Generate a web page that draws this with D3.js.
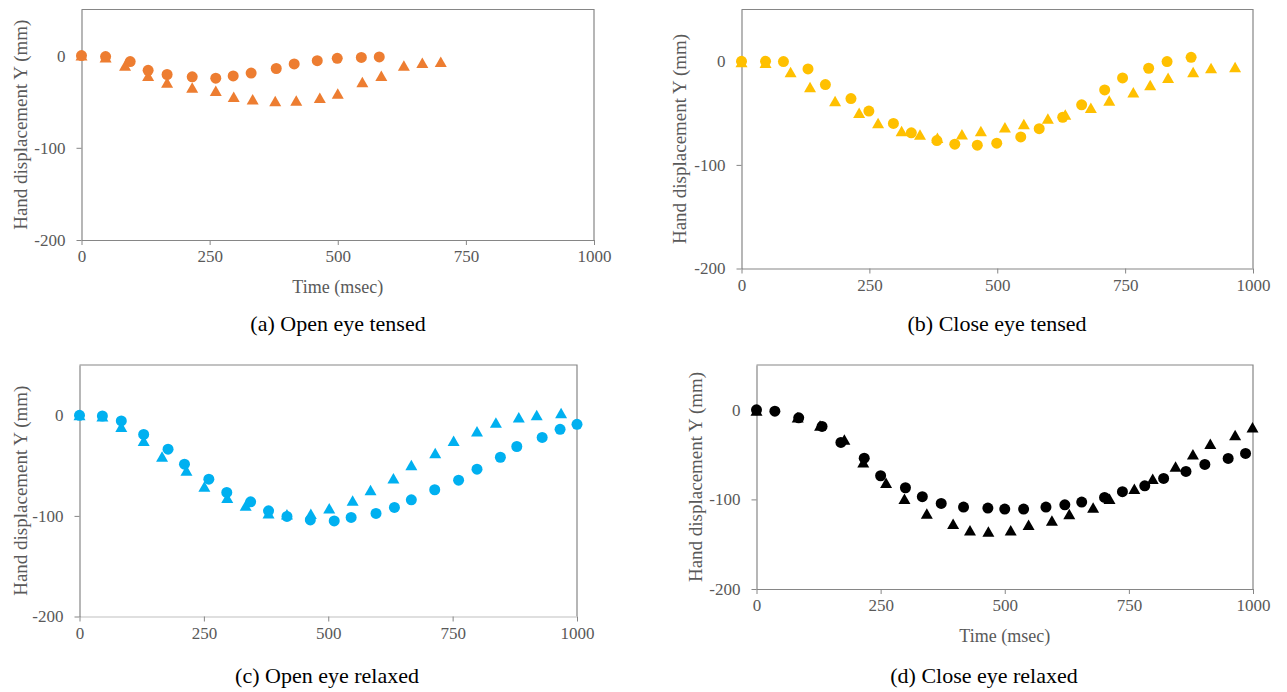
<!DOCTYPE html>
<html>
<head>
<meta charset="utf-8">
<script src="https://cdn.jsdelivr.net/npm/d3@7"></script>
<style>
  body { margin: 0; background: #fff; }
  svg { display: block; }
  text { font-family: "Liberation Serif", "Times New Roman", serif; }
</style>
</head>
<body>
<svg id="chart"></svg>
<script>
const width = 1287;
const height = 692;

const xTicks = [0, 250, 500, 750, 1000];
const yTicks = [0, -100, -200];

// (a) Open eye tensed: [time msec, displacement mm]
const openTensedCircles = [[0, 0], [47, -1], [95, -6.5], [130, -16], [167, -20.5], [216, -23], [262, -24.5],
  [296, -22], [331, -19], [380, -14], [415, -9], [460, -5.5], [499, -3], [546, -2], [581, -1.5]];
const openTensedTriangles = [[0, 0], [47, -2], [85, -11], [130, -22], [167, -29.5], [216, -35], [262, -38.5],
  [297, -45], [334, -47.5], [378, -49.5], [419, -49], [465, -46], [500, -41.5], [548, -29], [585, -22],
  [629, -11], [665, -8], [701, -7]];

// (b) Close eye tensed
const closeTensedCircles = [[0, 0], [47, 0], [82, -0.3], [130, -7.4], [164, -22.5], [214, -36], [249, -48],
  [297, -60], [332, -69], [382, -76.5], [417, -80], [461, -81], [499, -79], [546, -73], [582, -65],
  [628, -54], [665, -42], [710, -27.6], [745, -16], [796, -6.7], [832, -0.3], [879, 3.8]];
const closeTensedTriangles = [[0, -1], [47, -1.6], [96, -10.6], [134, -25], [183, -38.5], [230, -50],
  [267, -59.7], [313, -67.4], [349, -71], [383, -74], [431, -70.6], [468, -67.4], [515, -64], [552, -60.7],
  [599, -55.5], [633, -51.7], [683, -45], [719, -38], [766, -30], [799, -23], [834, -16], [883, -10.6],
  [918, -6.7], [965, -5.8]];

// (c) Open eye relaxed
const openRelaxedCircles = [[0, 0], [46, -0.7], [84, -5.6], [129, -19], [178, -33.7], [211, -48.6],
  [260, -63.5], [296, -76.7], [344, -86], [380, -95], [417, -100.5], [464, -104], [512, -105], [546, -101.5],
  [596, -97.5], [633, -91.6], [667, -84], [714, -74], [762, -64.5], [799, -53.6], [846, -41.7], [879, -31],
  [930, -22], [966, -13.9], [1000, -9]];
const openRelaxedTriangles = [[0, 0], [46, -1.3], [84, -11.6], [129, -25.5], [166, -41.3], [215, -55],
  [251, -71], [297, -82.3], [334, -90], [380, -97.5], [417, -98.5], [465, -98], [502, -92.6], [549, -85],
  [585, -74.4], [631, -62.8], [667, -49.6], [715, -37.7], [752, -25.5], [799, -16.2], [837, -7.3],
  [883, -2.3], [919, 0], [968, 2]];

// (d) Close eye relaxed
const closeRelaxedCircles = [[0, 0], [37, -1.5], [85, -9], [132, -18.6], [170, -36.4], [217, -54], [250, -73.6],
  [300, -87], [334, -97], [372, -104.5], [417, -108.5], [466, -109.7], [500, -110.8], [538, -110.8],
  [583, -108.5], [621, -106], [655, -103], [701, -97.8], [737, -91.4], [782, -84.8], [820, -76.6],
  [865, -68.8], [903, -61], [950, -54.3], [985, -48.7]];
const closeRelaxedTriangles = [[0, -1], [83, -8.6], [128, -17.8], [177, -33.5], [215, -58.7], [261, -81.8],
  [298, -99.6], [343, -116], [396, -127.5], [430, -134.6], [467, -136], [512, -134.6], [548, -128.6],
  [595, -123.8], [630, -116.7], [678, -109.3], [711, -99.6], [761, -88.5], [798, -77.3], [844, -63.6],
  [879, -49.8], [914, -38.3], [964, -28.3], [999, -19.7]];

const panels = [
  {caption: '(a) Open eye tensed', color: '#ED7D31', circles: openTensedCircles, triangles: openTensedTriangles,
   left: 81.5, right: 594, top: 9.5, bottom: 240, titleX: 27, capX: 338, capY: 331, timeTitle: true},
  {caption: '(b) Close eye tensed', color: '#FFC000', circles: closeTensedCircles, triangles: closeTensedTriangles,
   left: 741.5, right: 1253, top: 9.5, bottom: 268.5, titleX: 686, capX: 997, capY: 331, timeTitle: false},
  {caption: '(c) Open eye relaxed', color: '#00B0F0', circles: openRelaxedCircles, triangles: openRelaxedTriangles,
   left: 79.5, right: 577, top: 365, bottom: 616.5, titleX: 27, capX: 327, capY: 683, timeTitle: false,
   axisColor: '#BFBFBF'},
  {caption: '(d) Close eye relaxed', color: '#000000', circles: closeRelaxedCircles, triangles: closeRelaxedTriangles,
   left: 756.5, right: 1253, top: 365, bottom: 589, titleX: 702, capX: 984, capY: 683, timeTitle: true}
];

const svg = d3.select('#chart')
  .attr('width', width)
  .attr('height', height);

const lineColor = '#868686';
const tickText = '#595959';
const plainNumber = d => String(d);

panels.forEach(p => {
  const x = d3.scaleLinear().domain([0, 1000]).range([p.left, p.right]);
  const y = d3.scaleLinear().domain([-200, 50]).range([p.bottom, p.top]);
  const g = svg.append('g');

  // top and right frame
  g.append('path')
    .attr('d', `M${p.left},${p.top}H${p.right}V${p.bottom}`)
    .attr('fill', 'none')
    .attr('stroke', lineColor)
    .attr('stroke-width', 1.2);

  const xAxis = g.append('g')
    .attr('transform', `translate(0,${p.bottom})`)
    .call(d3.axisBottom(x).tickValues(xTicks).tickFormat(plainNumber)
      .tickSize(5).tickSizeOuter(0).tickPadding(5));
  xAxis.select('.domain').attr('stroke', p.axisColor || lineColor).attr('stroke-width', 1.2);
  xAxis.selectAll('.tick line').attr('stroke', lineColor);
  xAxis.selectAll('text').attr('fill', tickText).style('font-size', '17px')
    .style('font-family', '"Liberation Serif", serif');

  const yAxis = g.append('g')
    .attr('transform', `translate(${p.left},0)`)
    .call(d3.axisLeft(y).tickValues(yTicks).tickFormat(plainNumber)
      .tickSize(5).tickSizeOuter(0).tickPadding(11));
  yAxis.select('.domain').attr('stroke', lineColor).attr('stroke-width', 1.2);
  yAxis.selectAll('.tick line').attr('stroke', lineColor);
  yAxis.selectAll('text').attr('fill', tickText).style('font-size', '17px')
    .style('font-family', '"Liberation Serif", serif');

  g.append('text')
    .attr('transform', `translate(${p.titleX},${(p.top + p.bottom) / 2}) rotate(-90)`)
    .attr('text-anchor', 'middle')
    .attr('fill', tickText)
    .style('font-size', '19px')
    .text('Hand displacement Y (mm)');

  if (p.timeTitle) {
    g.append('text')
      .attr('x', (p.left + p.right) / 2)
      .attr('y', p.bottom + 53)
      .attr('text-anchor', 'middle')
      .attr('fill', tickText)
      .style('font-size', '18px')
      .text('Time (msec)');
  }

  g.append('text')
    .attr('x', p.capX)
    .attr('y', p.capY)
    .attr('text-anchor', 'middle')
    .attr('fill', '#000')
    .style('font-size', '22px')
    .text(p.caption);

  g.append('g').selectAll('path')
    .data(p.triangles)
    .join('path')
    .attr('transform', d => `translate(${x(d[0])},${y(d[1])})`)
    .attr('d', 'M0,-5.5L6,5L-6,5Z')
    .attr('fill', p.color);

  g.append('g').selectAll('circle')
    .data(p.circles)
    .join('circle')
    .attr('cx', d => x(d[0]))
    .attr('cy', d => y(d[1]))
    .attr('r', 5.5)
    .attr('fill', p.color);
});
</script>
</body>
</html>
